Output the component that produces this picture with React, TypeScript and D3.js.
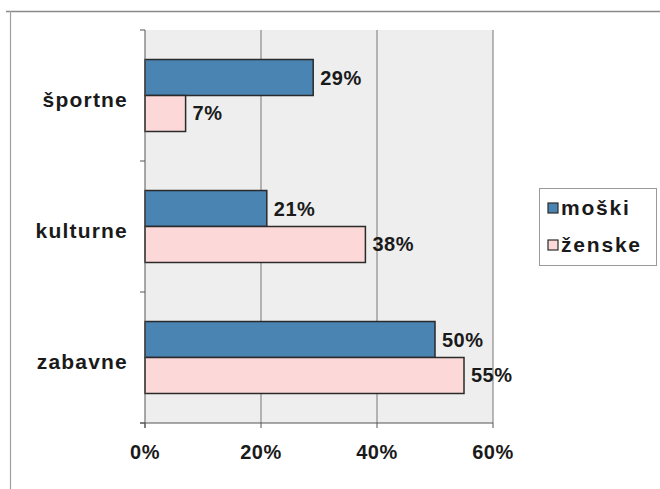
import React from "react";
import * as d3 from "d3";

const categories = ["športne", "kulturne", "zabavne"];
const seriesNames = ["moški", "ženske"];
const moski = [29, 21, 50];
const zenske = [7, 38, 55];
const xTicks = [0, 20, 40, 60];
const colors = ["#4a84b3", "#fcd9d8"];

export default function App() {
  const W = 660, H = 489;
  const left = 145, right = 493, top = 30, bottom = 423;
  const x = d3.scaleLinear().domain([0, 60]).range([left, right]);
  const y = d3.scaleBand().domain(categories).range([top, bottom]).paddingInner(0).paddingOuter(0);
  const inner = d3.scaleBand().domain(seriesNames).range([0, y.bandwidth()]).paddingInner(0).paddingOuter(0.82);
  const series = [moski, zenske];
  const font = "Arial, 'Liberation Sans', sans-serif";
  const boundaries = [top, ...categories.map((c) => (y(c) as number) + y.bandwidth())];

  return (
    <svg width={W} height={H} style={{ position: "absolute", left: 0, top: 0 }} fontFamily={font}>
      <rect x={0} y={0} width={W} height={H} fill="#ffffff" />
      <line x1={6} x2={660} y1={11.5} y2={11.5} stroke="#8a8a8a" strokeWidth={1.5} />
      <line x1={10.5} x2={10.5} y1={11} y2={489} stroke="#a0a0a0" strokeWidth={1.2} />
      <rect x={left} y={top} width={right - left} height={bottom - top} fill="#eeeeee" />
      {xTicks.slice(1).map((t) => (
        <line key={t} x1={x(t)} x2={x(t)} y1={top} y2={bottom} stroke="#777" strokeWidth={1} />
      ))}
      {series.map((vals, si) =>
        categories.map((c, ci) => (
          <rect
            key={`${si}-${ci}`}
            x={x(0)}
            y={(y(c) as number) + (inner(seriesNames[si]) as number)}
            width={x(vals[ci]) - x(0)}
            height={inner.bandwidth()}
            fill={colors[si]}
            stroke="#2a2a2a"
            strokeWidth={1.5}
          />
        ))
      )}
      {series.map((vals, si) =>
        categories.map((c, ci) => (
          <text
            key={`l-${si}-${ci}`}
            x={x(vals[ci]) + 7}
            y={(y(c) as number) + (inner(seriesNames[si]) as number) + inner.bandwidth() / 2}
            dy="0.35em"
            fontSize={20}
            fontWeight="bold"
            fill="#1a1a1a"
            letterSpacing={0.5}
          >
            {vals[ci]}%
          </text>
        ))
      )}
      <line x1={left} x2={left} y1={top} y2={bottom + 5} stroke="#555" strokeWidth={1} />
      <line x1={left - 5} x2={right} y1={bottom} y2={bottom} stroke="#555" strokeWidth={1} />
      {boundaries.map((b, i) => (
        <line key={i} x1={left - 5} x2={left} y1={b} y2={b} stroke="#555" strokeWidth={1} />
      ))}
      {xTicks.map((t) => (
        <g key={t}>
          <line x1={x(t)} x2={x(t)} y1={bottom} y2={bottom + 5} stroke="#555" strokeWidth={1} />
          <text x={x(t)} y={bottom + 29} dy="0.35em" textAnchor="middle" fontSize={20} fontWeight="bold" fill="#1a1a1a" letterSpacing={0.5}>
            {t}%
          </text>
        </g>
      ))}
      {categories.map((c) => (
        <text
          key={c}
          x={128}
          y={(y(c) as number) + y.bandwidth() / 2 + 4}
          dy="0.35em"
          textAnchor="end"
          fontSize={21}
          fontWeight="bold"
          fill="#1a1a1a"
          letterSpacing={1.2}
        >
          {c}
        </text>
      ))}
      <rect x={539.5} y={188.5} width={117} height={77} fill="#ffffff" stroke="#9a9a9a" strokeWidth={1} />
      {seriesNames.map((s, i) => (
        <g key={s} transform={`translate(548, ${208 + i * 37})`}>
          <rect x={0} y={-5} width={10} height={10} fill={colors[i]} stroke="#2a2a2a" strokeWidth={1.2} />
          <text x={13} y={0} dy="0.35em" fontSize={21} fontWeight="bold" fill="#1a1a1a" letterSpacing={1.8}>
            {s}
          </text>
        </g>
      ))}
    </svg>
  );
}
